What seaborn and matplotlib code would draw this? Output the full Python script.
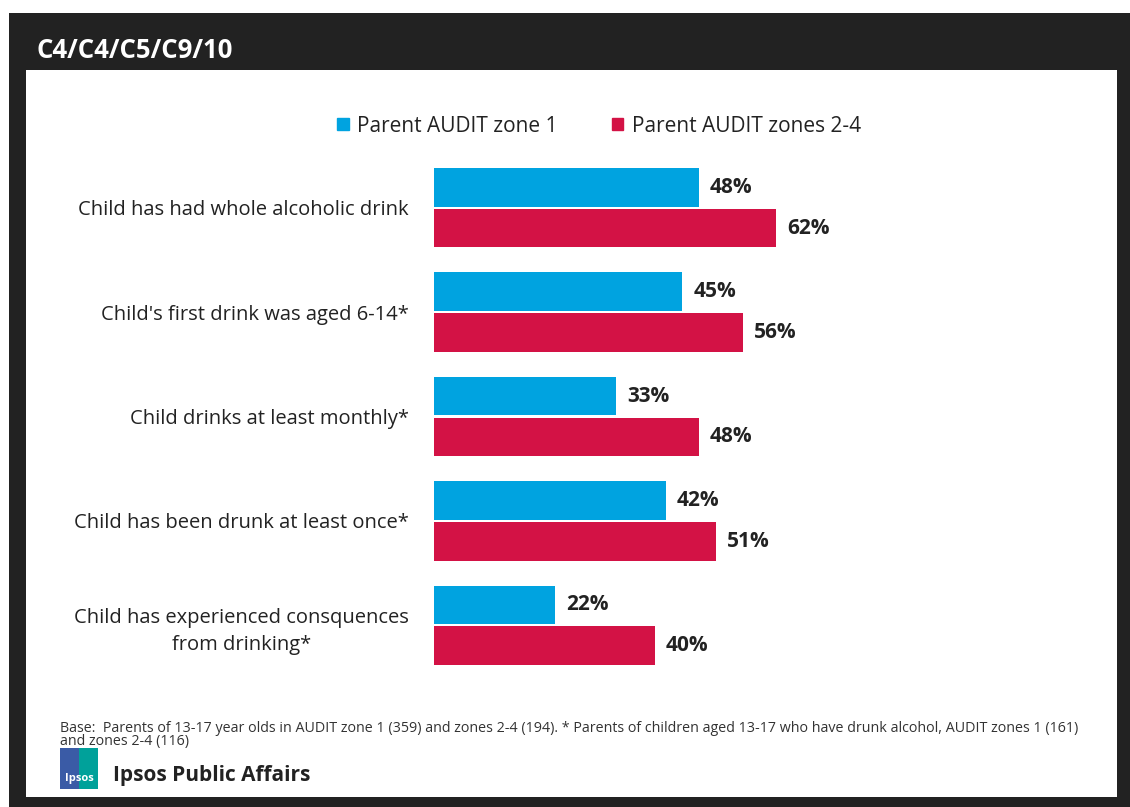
import matplotlib
matplotlib.use("Agg")
import matplotlib.pyplot as plt
import matplotlib.patches as mpatches
import pandas as pd
import seaborn as sns

categories = [
    "Child has had whole alcoholic drink",
    "Child's first drink was aged 6-14*",
    "Child drinks at least monthly*",
    "Child has been drunk at least once*",
    "Child has experienced consquences\nfrom drinking*",
]
series = ["Parent AUDIT zone 1", "Parent AUDIT zones 2-4"]
zone1 = [48, 45, 33, 42, 22]
zones24 = [62, 56, 48, 51, 40]
colors = ["#00a3e0", "#d31245"]

df = pd.DataFrame({
    "category": categories * 2,
    "group": [series[0]] * 5 + [series[1]] * 5,
    "value": zone1 + zones24,
})

sns.set_theme(style="white")
plt.rcParams["font.family"] = ["Open Sans", "DejaVu Sans"]

W, H = 1130, 807
fig = plt.figure(figsize=(W / 100, H / 100), dpi=100)


def px_rect(x0, y0, x1, y1, color, z=-2):
    fig.patches.append(mpatches.Rectangle(
        (x0 / W, 1 - y1 / H), (x1 - x0) / W, (y1 - y0) / H,
        transform=fig.transFigure, facecolor=color, edgecolor="none", zorder=z))


# frame + white panel
px_rect(9, 13, 1130, 807, "#222222", -3)
px_rect(26, 70, 1117, 797, "white", -2)

fig.text(37 / W, 1 - 50 / H, "C4/C4/C5/C9/10", color="white",
         fontsize=18.5, fontweight="bold", va="center", ha="left")

# ── bars ──────────────────────────────────────────────────────────────────────
ax = fig.add_axes([434 / W, 1 - 677.5 / H, 552 / W, 522 / H])
ax.set_zorder(2)
sns.barplot(data=df, y="category", x="value", hue="group", orient="h",
            palette=colors, saturation=1, width=0.78, gap=0.05, linewidth=0,
            ax=ax, legend=False)
ax.set_xlim(0, 100)
ax.set_ylim(4.5, -0.5)
ax.set_xlabel("")
ax.set_ylabel("")
ax.set_xticks([])
ax.tick_params(axis="y", length=0, pad=18, labelsize=14.5, labelcolor="#222222")
for lbl in ax.get_yticklabels():
    lbl.set_horizontalalignment("right")
    lbl.set_multialignment("center")
    lbl.set_linespacing(1.45)
for s in ax.spines.values():
    s.set_visible(False)
ax.patch.set_alpha(0)

for cont in ax.containers:
    ax.bar_label(cont, fmt="%d%%", padding=8, fontsize=15, fontweight="bold",
                 color="#222222")

# legend
handles = [mpatches.Patch(color=c, label=s) for c, s in zip(colors, series)]
fig.legend(handles=handles, loc="center", bbox_to_anchor=(599 / W, 1 - 126 / H),
           ncol=2, frameon=False, fontsize=15, handlelength=0.55, handleheight=0.55,
           handletextpad=0.4, columnspacing=2.6, labelcolor="#222222")

# footnote
fig.text(60 / W, 1 - 735 / H,
         "Base:  Parents of 13-17 year olds in AUDIT zone 1 (359) and zones 2-4 (194). "
         "* Parents of children aged 13-17 who have drunk alcohol, AUDIT zones 1 (161)\n"
         "and zones 2-4 (116)",
         fontsize=10.3, color="#333333", va="center", ha="left", linespacing=0.85)

# logo
px_rect(60, 748, 79, 789, "#3a5ba6", 1)
px_rect(79, 748, 98, 789, "#00a19a", 1)
fig.text(79 / W, 1 - 778 / H, "Ipsos", color="white", fontsize=8,
         fontweight="bold", ha="center", va="center", zorder=3)
fig.text(113 / W, 1 - 775 / H, "Ipsos Public Affairs", color="#222222",
         fontsize=15, fontweight="bold", ha="left", va="center")

fig.savefig("out.png", dpi=100)
